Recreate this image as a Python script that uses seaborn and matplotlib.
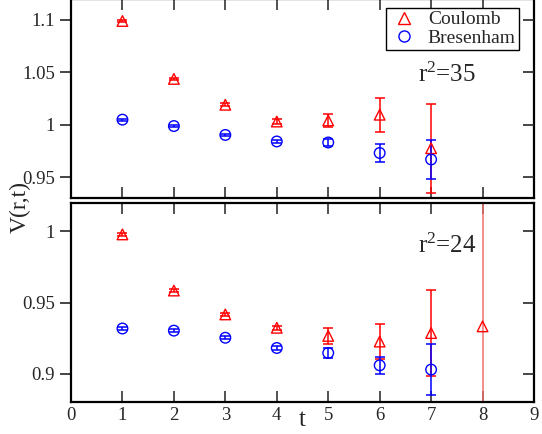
import numpy as np
import pandas as pd
import matplotlib
matplotlib.use("Agg")
import matplotlib.pyplot as plt
from matplotlib.lines import Line2D
import seaborn as sns

# ---- data ----
t = [1, 2, 3, 4, 5, 6, 7]
t8 = [1, 2, 3, 4, 5, 6, 7, 8]

# r^2 = 35 panel
coul35 = [1.0990, 1.0437, 1.0190, 1.0030, 1.0040, 1.0095, 0.9775]
coul35_err = [0.0010, 0.0012, 0.0015, 0.0020, 0.0060, 0.0162, 0.0423]
bres35 = [1.0048, 0.9987, 0.9902, 0.9840, 0.9830, 0.9730, 0.9668]
bres35_err = [0.0010, 0.0010, 0.0012, 0.0015, 0.0030, 0.0085, 0.0188]

# r^2 = 24 panel
coul24 = [0.9979, 0.9584, 0.9416, 0.9322, 0.9265, 0.9225, 0.9285, 0.9332]
coul24_err = [0.0008, 0.0008, 0.0010, 0.0013, 0.0055, 0.0122, 0.0305, 0.1200]
bres24 = [0.9317, 0.9302, 0.9252, 0.9180, 0.9145, 0.9058, 0.9028]
bres24_err = [0.0010, 0.0010, 0.0010, 0.0012, 0.0036, 0.0062, 0.0178]

xticks = [0, 1, 2, 3, 4, 5, 6, 7, 8, 9]
yticks_top = [0.95, 1.0, 1.05, 1.1]
yticks_bot = [0.9, 0.95, 1.0]
labels = ["Coulomb", "Bresenham"]
annot = [r"r$^2$=35", r"r$^2$=24"]

RED = "#ff0000"
BLUE = "#0000ff"

sns.set_theme(style="ticks")
plt.rcParams["font.family"] = ["Liberation Serif", "DejaVu Serif"]
plt.rcParams["mathtext.default"] = "regular"

fig = plt.figure(figsize=(5.42, 4.34), dpi=100)
W, H = 542.0, 434.0
left, right = 71 / W, 534 / W
ax_top = fig.add_axes([left, 1 - 198 / H, right - left, 199 / H])
ax_bot = fig.add_axes([left, 1 - 402 / H, right - left, 199 / H])


def draw_series(ax, x, y, err, color, marker, ecolor=None):
    df = pd.DataFrame({"t": x, "V": y})
    ax.errorbar(x, y, yerr=err, fmt="none", ecolor=ecolor or color,
                elinewidth=1.1, capsize=3.8, capthick=1.1, zorder=2)
    sns.scatterplot(data=df, x="t", y="V", ax=ax, marker=marker, s=58,
                    color=color, linewidth=1.0, zorder=3, legend=False)
    coll = ax.collections[-1]
    coll.set_facecolor("none")
    coll.set_edgecolor(color)


draw_series(ax_top, t, coul35, coul35_err, RED, "^")
draw_series(ax_top, t, bres35, bres35_err, BLUE, "o")
draw_series(ax_bot, t8[:7], coul24[:7], coul24_err[:7], RED, "^")
draw_series(ax_bot, t8[7:], coul24[7:], coul24_err[7:], RED, "^", ecolor="#f07070")
draw_series(ax_bot, t, bres24, bres24_err, BLUE, "o")

for ax, yl, yt in [(ax_top, (0.93, 1.12), yticks_top),
                   (ax_bot, (0.88, 1.02), yticks_bot)]:
    ax.set_xlim(0, 9)
    ax.set_ylim(*yl)
    ax.set_xticks(xticks)
    ax.set_yticks(yt)
    ax.set_yticklabels(["%g" % v for v in yt])
    ax.set_xlabel("")
    ax.set_ylabel("")
    for sp in ax.spines.values():
        sp.set_visible(True)
        sp.set_linewidth(1.6)
        sp.set_color("black")
    ax.tick_params(axis="x", direction="in", top=True, bottom=True,
                   length=8, width=1.2, labelsize=13.5, color="#333333")
    ax.tick_params(axis="y", direction="out", left=True, right=False,
                   length=8, width=1.2, labelsize=13.5)
    tw = ax.twinx()
    tw.set_ylim(*yl)
    tw.set_yticks(yt)
    tw.tick_params(axis="y", direction="in", right=True, length=8,
                   width=1.2, labelright=False)
    for sp in tw.spines.values():
        sp.set_visible(False)

ax_top.tick_params(axis="x", labelbottom=False)
ax_bot.set_xticklabels([str(v) for v in xticks])

ax_top.text(6.75, 1.041, annot[0], fontsize=18, ha="left", va="baseline")
ax_bot.text(6.75, 0.9848, annot[1], fontsize=18, ha="left", va="baseline")

handles = [Line2D([], [], ls="none", marker="^", ms=8, mfc="none", mec=RED, mew=1.0),
           Line2D([], [], ls="none", marker="o", ms=8, mfc="none", mec=BLUE, mew=1.0)]
leg = ax_top.legend(handles, labels, loc="upper right", bbox_to_anchor=(0.967, 0.955),
                    fontsize=14, frameon=True, fancybox=False, framealpha=1,
                    borderpad=0.15, handletextpad=0.4, labelspacing=0.05,
                    handlelength=1.6, borderaxespad=0)
leg.get_frame().set_edgecolor("black")
leg.get_frame().set_linewidth(1.0)

fig.text(20 / W, 1 - 207 / H, "V(r,t)", rotation=90, fontsize=17,
         ha="center", va="center")
fig.text(302 / W, 1 - 420 / H, "t", fontsize=18, ha="center", va="center")

fig.savefig("out.png", dpi=100)
